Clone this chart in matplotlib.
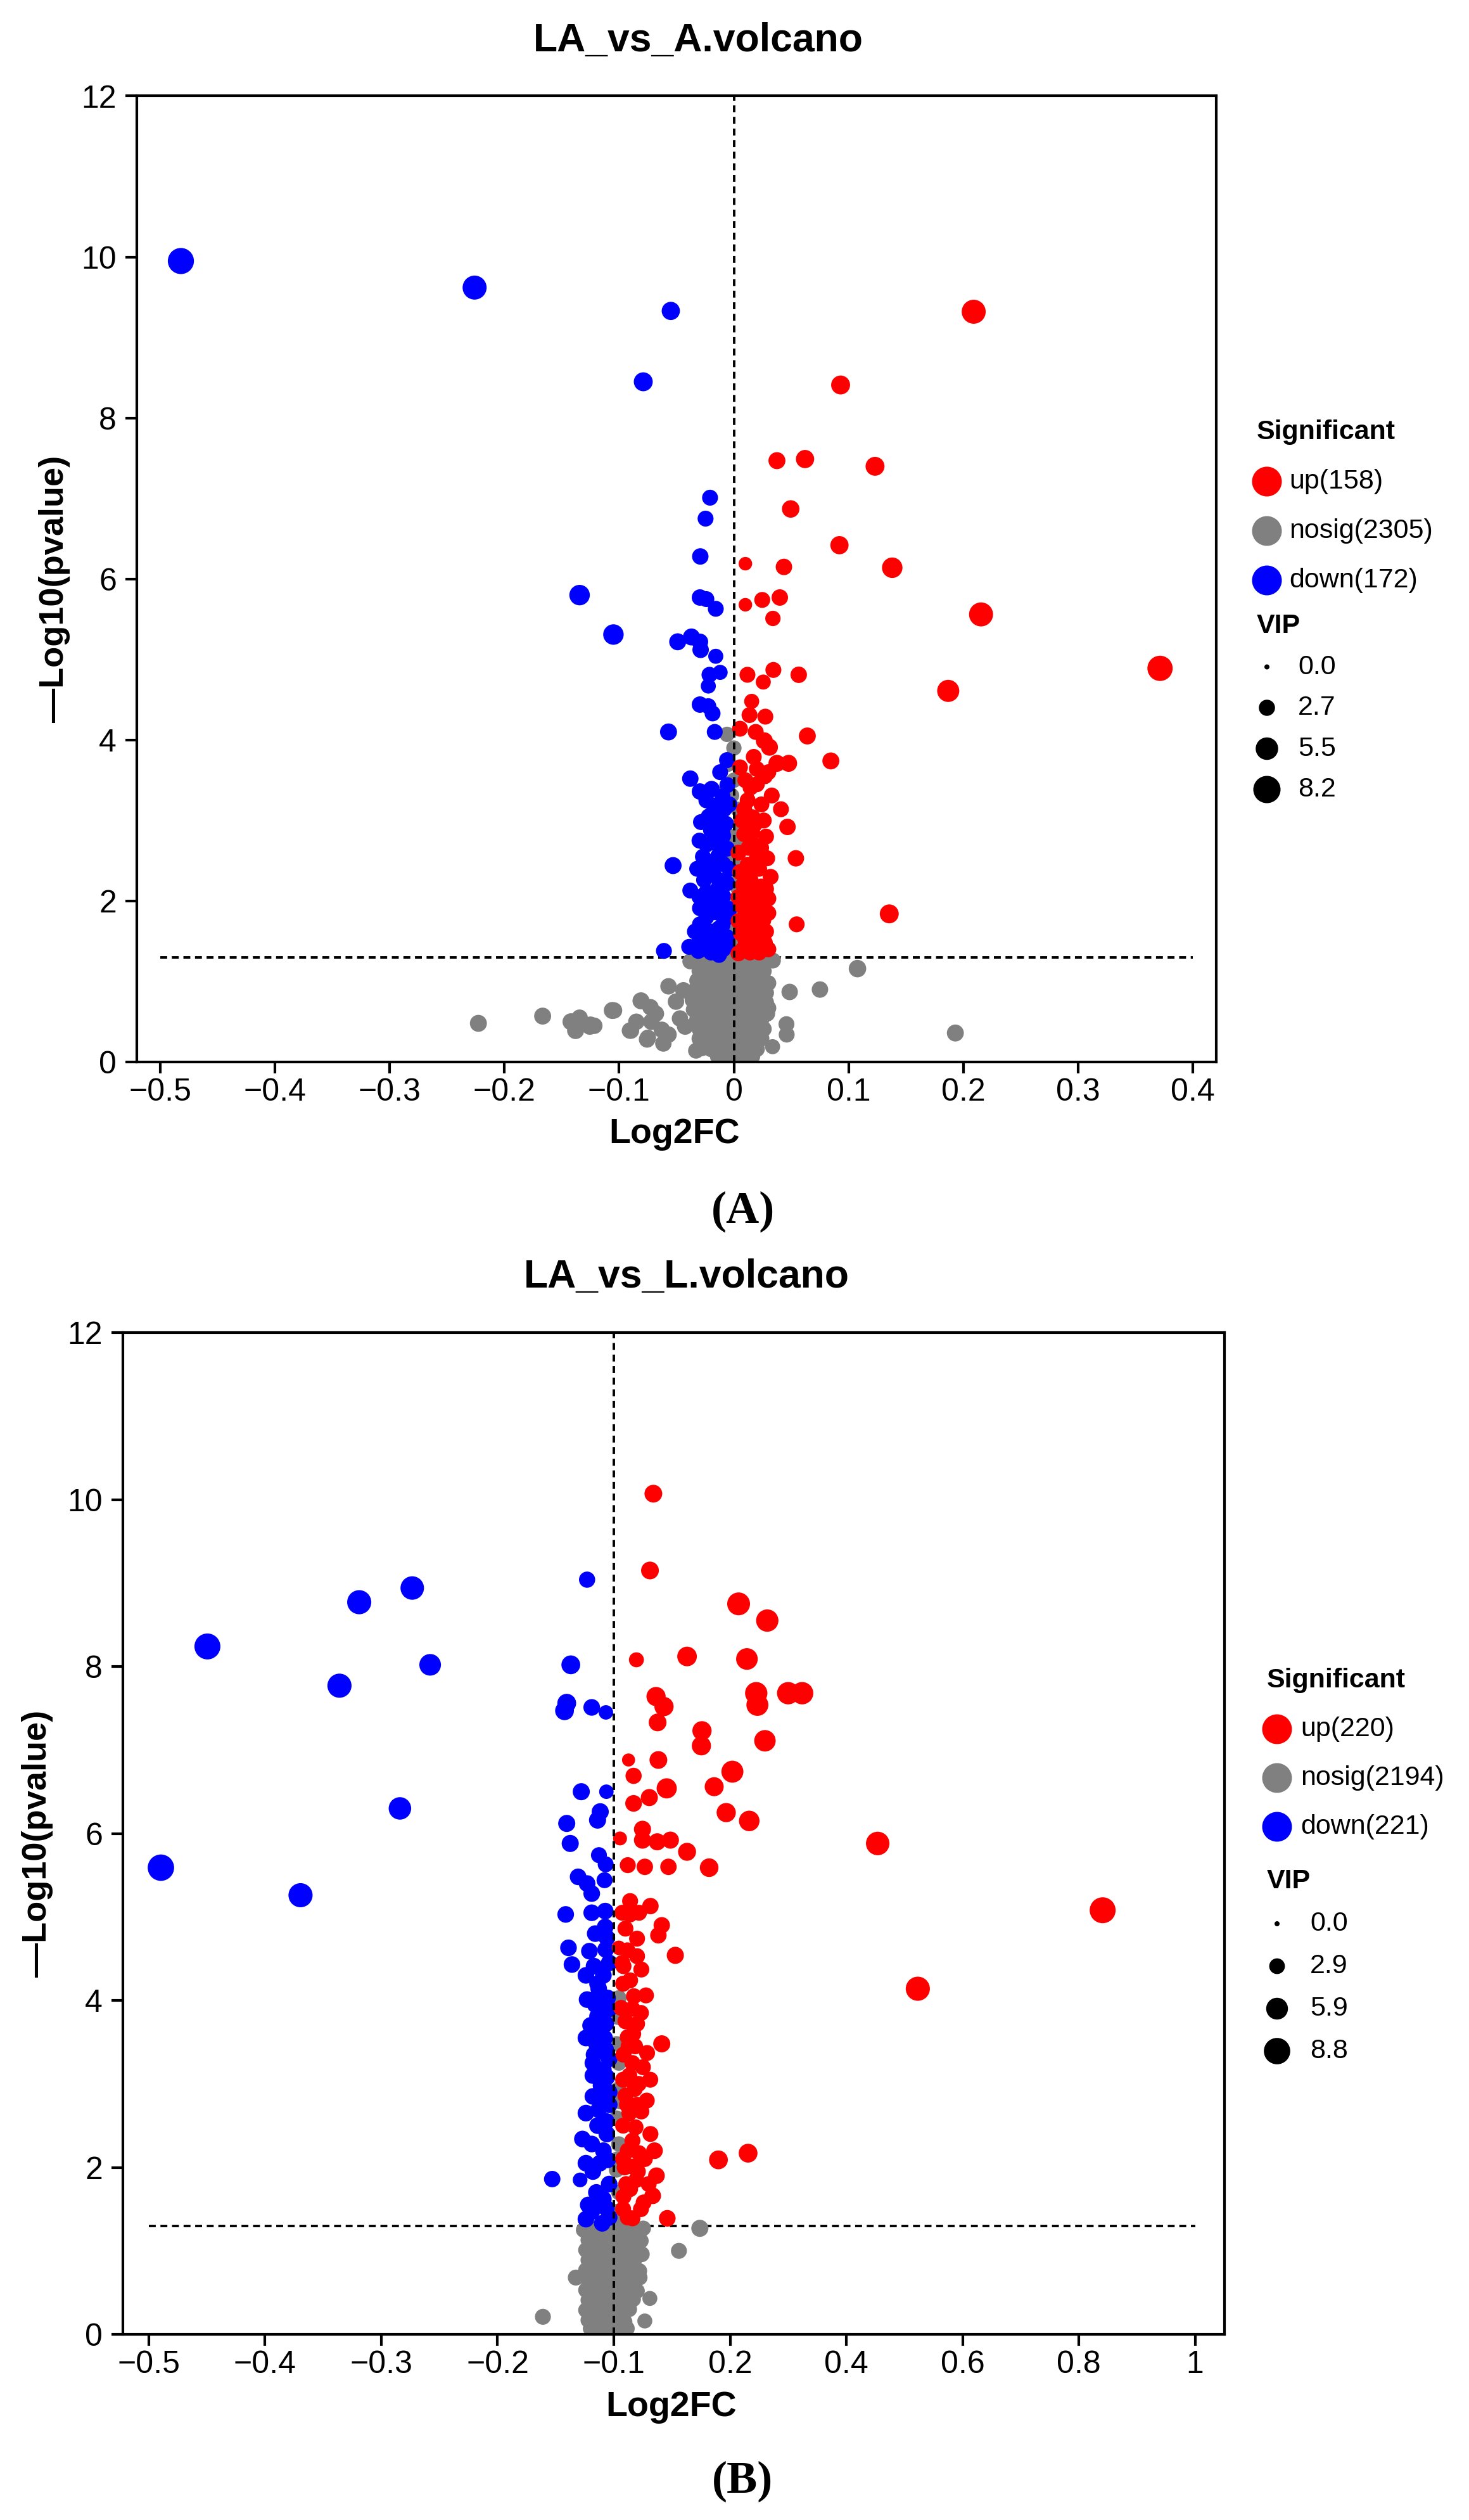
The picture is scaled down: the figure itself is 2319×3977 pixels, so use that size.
import numpy as np
import matplotlib
matplotlib.use("Agg")
import matplotlib.pyplot as plt

plt.rcParams['font.family'] = ['Liberation Sans', 'DejaVu Sans']

W, H = 2319, 3977

# colours of the three groups
c_up, c_nosig, c_down = '#FF0000', '#808080', '#0000FF'

# ---------------- panel A : LA_vs_A ----------------
a_title = "LA_vs_A.volcano"
# (log2FC, -log10 p, VIP)
a_up = [
    (0.209, 9.32, 6.3), (0.093, 8.41, 3.8), (0.0375, 7.47, 3.0), (0.062, 7.49, 3.5),
    (0.123, 7.40, 3.8), (0.0495, 6.87, 3.2), (0.092, 6.42, 3.5), (0.010, 6.19, 1.8),
    (0.0436, 6.15, 2.8), (0.138, 6.14, 4.5), (0.2154, 5.56, 6.3), (0.3714, 4.89, 7.0),
    (0.1868, 4.61, 5.3), (0.010, 5.68, 1.8), (0.0247, 5.74, 2.6), (0.040, 5.77, 2.8),
    (0.034, 5.51, 2.4), (0.0118, 4.81, 2.6), (0.0256, 4.72, 2.3), (0.0344, 4.87, 2.6),
    (0.0565, 4.81, 2.8), (0.0155, 4.48, 2.3), (0.0136, 4.31, 2.6), (0.0274, 4.29, 2.6),
    (0.0053, 4.14, 2.6), (0.0265, 3.99, 3.0), (0.031, 3.91, 3.0), (0.064, 4.05, 3.0),
    (0.0845, 3.74, 3.0), (0.0477, 3.71, 3.0), (0.0375, 3.71, 3.0), (0.0173, 3.79, 2.6),
    (0.0053, 3.66, 2.6), (0.020, 3.64, 2.6), (0.0145, 3.41, 2.6), (0.033, 3.31, 2.6),
    (0.041, 3.14, 2.6), (0.009, 3.14, 2.6), (0.0467, 2.92, 2.8), (0.0164, 3.04, 2.6),
    (0.009, 2.83, 2.6), (0.0127, 2.66, 2.6), (0.0237, 2.66, 2.6), (0.020, 2.53, 2.6),
    (0.029, 2.53, 2.6), (0.054, 2.53, 2.8), (0.0053, 2.36, 2.6), (0.0145, 2.26, 2.6),
    (0.0237, 2.18, 2.6), (0.030, 2.03, 2.6), (0.018, 1.86, 2.6), (0.0256, 1.76, 2.6),
    (0.0547, 1.71, 2.6), (0.0145, 1.58, 2.6), (0.0237, 1.58, 2.6), (0.0164, 1.43, 2.6),
    (0.020, 1.71, 2.6), (0.011, 2.00, 2.6), (0.1354, 1.84, 3.8), (0.008, 1.40, 2.6),
    (0.022, 1.36, 2.6), (0.012, 1.75, 2.6), (0.026, 1.95, 2.6), (0.016, 2.10, 2.6),
    (0.008, 2.20, 2.6), (0.022, 2.40, 2.6), (0.012, 2.45, 2.6), (0.028, 2.80, 2.6),
    (0.018, 2.95, 2.6), (0.024, 3.20, 2.6), (0.010, 3.50, 2.6), (0.027, 3.55, 2.6),
    (0.019, 4.10, 2.6), (0.006, 1.95, 2.6), (0.006, 1.60, 2.6), (0.027, 1.48, 2.6),
    (0.017, 2.70, 2.6), (0.032, 2.30, 2.6), (0.007, 3.00, 2.6),
    (0.004, 1.35, 2.6), (0.014, 1.36, 2.6), (0.030, 1.40, 2.6), (0.010, 1.52, 2.6),
    (0.020, 1.50, 2.6), (0.028, 1.62, 2.6), (0.004, 1.75, 2.6), (0.016, 1.70, 2.6),
    (0.030, 1.85, 2.6), (0.010, 1.88, 2.6), (0.020, 2.00, 2.6), (0.004, 2.05, 2.6),
    (0.028, 2.15, 2.6), (0.012, 2.30, 2.6), (0.026, 2.55, 2.6), (0.004, 2.60, 2.6),
    (0.016, 2.85, 2.6), (0.026, 3.00, 2.6), (0.012, 3.25, 2.6), (0.020, 3.45, 2.6),
    (0.030, 3.60, 2.6),
]
a_down = [
    (-0.482, 9.95, 7.5), (-0.226, 9.62, 6.3), (-0.055, 9.33, 3.5), (-0.079, 8.45, 3.8),
    (-0.0208, 7.01, 2.6), (-0.0247, 6.75, 2.6), (-0.0293, 6.28, 2.8), (-0.1345, 5.80, 4.5),
    (-0.0296, 5.77, 2.8), (-0.024, 5.75, 2.6), (-0.0158, 5.63, 2.6), (-0.105, 5.31, 4.5),
    (-0.049, 5.22, 3.0), (-0.037, 5.28, 3.0), (-0.0296, 5.22, 2.8), (-0.029, 5.12, 2.8),
    (-0.0158, 5.04, 2.3), (-0.012, 4.84, 2.3), (-0.0213, 4.81, 2.6), (-0.0223, 4.67, 2.3),
    (-0.0296, 4.44, 2.8), (-0.0223, 4.42, 2.6), (-0.0186, 4.33, 2.6), (-0.057, 4.10, 3.0),
    (-0.0167, 4.10, 2.6), (-0.038, 3.52, 2.8), (-0.0296, 3.36, 2.8), (-0.0195, 3.39, 2.8),
    (-0.0057, 3.44, 2.6), (-0.0149, 3.19, 2.6), (-0.0085, 3.14, 2.6), (-0.0287, 2.98, 2.6),
    (-0.013, 2.99, 2.6), (-0.0094, 2.81, 2.6), (-0.012, 2.61, 2.6), (-0.053, 2.44, 3.0),
    (-0.0204, 2.46, 2.6), (-0.0094, 2.46, 2.6), (-0.026, 2.26, 2.6), (-0.013, 2.26, 2.6),
    (-0.038, 2.13, 2.6), (-0.024, 2.11, 2.6), (-0.0094, 2.06, 2.6), (-0.0296, 1.91, 2.6),
    (-0.0167, 1.86, 2.6), (-0.0075, 1.78, 2.6), (-0.0296, 1.71, 2.6), (-0.013, 1.66, 2.6),
    (-0.0278, 1.56, 2.6), (-0.039, 1.43, 2.6), (-0.061, 1.38, 2.6), (-0.0223, 1.43, 2.6),
    (-0.0094, 1.40, 2.6), (-0.013, 1.33, 2.6), (-0.020, 1.36, 2.6), (-0.031, 1.38, 2.6),
    (-0.006, 1.55, 2.6), (-0.019, 1.62, 2.6), (-0.024, 1.80, 2.6), (-0.010, 1.95, 2.6),
    (-0.020, 2.02, 2.6), (-0.006, 2.22, 2.6), (-0.018, 2.36, 2.6), (-0.027, 2.55, 2.6),
    (-0.016, 2.72, 2.6), (-0.007, 2.96, 2.6), (-0.020, 2.88, 2.6), (-0.010, 3.30, 2.6),
    (-0.022, 3.05, 2.6), (-0.006, 3.75, 2.6), (-0.012, 3.60, 2.6),
    (-0.030, 1.50, 2.6), (-0.022, 1.50, 2.6), (-0.014, 1.50, 2.6), (-0.006, 1.45, 2.6),
    (-0.034, 1.62, 2.6), (-0.026, 1.68, 2.6), (-0.010, 1.70, 2.6), (-0.004, 1.90, 2.6),
    (-0.018, 1.95, 2.6), (-0.030, 2.05, 2.6), (-0.014, 2.15, 2.6), (-0.004, 2.40, 2.6),
    (-0.022, 2.35, 2.6), (-0.032, 2.40, 2.6), (-0.014, 2.55, 2.6), (-0.006, 2.65, 2.6),
    (-0.024, 2.70, 2.6), (-0.010, 2.85, 2.6), (-0.030, 2.75, 2.6), (-0.018, 3.10, 2.6),
    (-0.004, 3.20, 2.6), (-0.024, 3.25, 2.6),
]
a_nosig = [
    (-0.006, 4.07, 2.4), (-0.005, 3.70, 2.4), (-0.002, 3.31, 2.4), (0.0035, 3.14, 2.4),
    (0.0044, 2.96, 2.4), (0.005, 2.71, 2.4), (0.0035, 2.41, 2.4), (0.0035, 2.16, 2.4),
    (0.0053, 1.91, 2.4), (0.0017, 1.66, 2.4), (0.0053, 1.46, 2.4), (0.0, 2.56, 2.4),
    (0.0, 3.90, 2.4), (0.002, 1.80, 2.4), (-0.001, 2.00, 2.4), (0.001, 2.30, 2.4),
    (-0.002, 2.80, 2.4), (0.0, 3.50, 2.4), (0.0, 1.55, 2.4),
    (0.193, 0.36, 3.0), (0.1077, 1.16, 3.2), (0.075, 0.90, 2.8), (0.0486, 0.87, 2.8),
    (0.0458, 0.47, 2.6), (0.046, 0.34, 2.6), (0.0337, 0.19, 2.3), (0.029, 0.60, 2.6),
    (0.028, 0.86, 2.6), (-0.142, 0.50, 3.0), (-0.125, 0.46, 3.0), (-0.106, 0.64, 3.0),
    (-0.081, 0.76, 3.0), (-0.0757, 0.28, 2.8), (-0.0906, 0.39, 2.8), (-0.068, 0.60, 2.8),
    (-0.057, 0.34, 2.8), (-0.057, 0.94, 2.8), (-0.044, 0.89, 2.8), (-0.047, 0.54, 2.8),
    (-0.0425, 0.44, 2.8), (-0.035, 0.65, 2.6), (-0.033, 0.14, 2.6), (-0.029, 0.27, 2.6),
    (-0.2227, 0.48, 3.0), (-0.1667, 0.57, 3.0), (-0.138, 0.48, 3.0), (-0.138, 0.39, 3.0),
    (-0.1256, 0.44, 2.8), (-0.1045, 0.64, 2.8), (-0.0727, 0.68, 2.8), (-0.0897, 0.39, 2.8),
    (-0.075, 0.30, 2.8), (-0.0505, 0.75, 2.8), (-0.0615, 0.23, 2.8), (-0.0628, 0.40, 2.8),
    (-0.072, 0.50, 2.8), (-0.085, 0.50, 2.8), (-0.1217, 0.45, 2.8), (-0.1345, 0.55, 2.8),
    # dense core under the cut-off
    (-0.038, 1.25, 2.6), (-0.030, 1.26, 2.6), (-0.022, 1.24, 2.6), (-0.014, 1.25, 2.6),
    (-0.006, 1.27, 2.6), (0.002, 1.24, 2.6), (0.010, 1.26, 2.6), (0.018, 1.25, 2.6),
    (0.026, 1.23, 2.6), (0.034, 1.26, 2.6),
    (-0.030, 1.13, 2.6), (-0.022, 1.12, 2.6), (-0.014, 1.14, 2.6), (-0.006, 1.13, 2.6),
    (0.002, 1.11, 2.6), (0.010, 1.14, 2.6), (0.018, 1.12, 2.6), (0.026, 1.13, 2.6),
    (-0.032, 1.01, 2.6), (-0.024, 1.00, 2.6), (-0.016, 1.02, 2.6), (-0.008, 1.01, 2.6),
    (0.000, 0.99, 2.6), (0.008, 1.02, 2.6), (0.016, 1.00, 2.6), (0.024, 1.01, 2.6),
    (0.030, 0.98, 2.6),
    (-0.034, 0.89, 2.6), (-0.026, 0.88, 2.6), (-0.018, 0.90, 2.6), (-0.010, 0.89, 2.6),
    (-0.002, 0.87, 2.6), (0.006, 0.90, 2.6), (0.014, 0.88, 2.6), (0.022, 0.89, 2.6),
    (-0.036, 0.77, 2.6), (-0.028, 0.76, 2.6), (-0.020, 0.78, 2.6), (-0.012, 0.77, 2.6),
    (-0.004, 0.75, 2.6), (0.004, 0.78, 2.6), (0.012, 0.76, 2.6), (0.020, 0.77, 2.6),
    (0.028, 0.74, 2.6),
    (-0.034, 0.65, 2.6), (-0.026, 0.64, 2.6), (-0.018, 0.66, 2.6), (-0.010, 0.65, 2.6),
    (-0.002, 0.63, 2.6), (0.006, 0.66, 2.6), (0.014, 0.64, 2.6), (0.022, 0.65, 2.6),
    (0.030, 0.67, 2.6),
    (-0.032, 0.53, 2.6), (-0.024, 0.52, 2.6), (-0.016, 0.54, 2.6), (-0.008, 0.53, 2.6),
    (0.000, 0.51, 2.6), (0.008, 0.54, 2.6), (0.016, 0.52, 2.6), (0.024, 0.53, 2.6),
    (-0.030, 0.41, 2.6), (-0.022, 0.40, 2.6), (-0.014, 0.42, 2.6), (-0.006, 0.41, 2.6),
    (0.002, 0.39, 2.6), (0.010, 0.42, 2.6), (0.018, 0.40, 2.6), (0.026, 0.41, 2.6),
    (-0.030, 0.29, 2.6), (-0.022, 0.28, 2.6), (-0.014, 0.30, 2.6), (-0.006, 0.29, 2.6),
    (0.002, 0.27, 2.6), (0.010, 0.30, 2.6), (0.018, 0.28, 2.6), (0.024, 0.29, 2.6),
    (-0.028, 0.17, 2.6), (-0.020, 0.16, 2.6), (-0.012, 0.18, 2.6), (-0.004, 0.17, 2.6),
    (0.004, 0.15, 2.6), (0.012, 0.18, 2.6), (0.020, 0.16, 2.6),
    (-0.014, 0.07, 2.6), (-0.006, 0.06, 2.6), (0.002, 0.08, 2.6), (0.010, 0.06, 2.6),
    (0.016, 0.07, 2.6),
]
a_counts = ["up(158)", "nosig(2305)", "down(172)"]
a_vip_keys = [0.0, 2.7, 5.5, 8.2]
a_xticks = [-0.5, -0.4, -0.3, -0.2, -0.1, 0.0, 0.1, 0.2, 0.3, 0.4]
a_xticklabels = ["\u22120.5", "\u22120.4", "\u22120.3", "\u22120.2", "\u22120.1",
                 "0", "0.1", "0.2", "0.3", "0.4"]

# ---------------- panel B : LA_vs_L ----------------
b_title = "LA_vs_L.volcano"
b_up = [
    (0.002, 10.07, 3.8), (-0.0067, 9.15, 3.8), (0.2147, 8.75, 6.5), (0.264, 8.55, 6.2),
    (-0.0417, 8.08, 2.6), (0.089, 8.12, 4.7), (0.229, 8.09, 5.8), (0.245, 7.68, 6.2),
    (0.300, 7.68, 6.2), (0.324, 7.68, 6.2), (0.247, 7.54, 6.0), (0.009, 7.64, 4.5),
    (0.0295, 7.52, 4.5), (0.013, 7.33, 3.8), (0.1275, 7.23, 4.5), (0.126, 7.05, 4.5),
    (0.260, 7.11, 5.7), (-0.062, 6.88, 1.9), (0.015, 6.88, 3.8), (-0.049, 6.69, 3.1),
    (0.204, 6.74, 6.0), (0.0365, 6.54, 5.0), (0.159, 6.56, 4.4), (-0.0084, 6.43, 3.5),
    (-0.049, 6.36, 3.3), (0.190, 6.25, 4.5), (0.233, 6.15, 5.2), (-0.084, 5.94, 2.2),
    (-0.026, 6.05, 3.5), (-0.026, 5.92, 3.5), (0.012, 5.90, 3.5), (0.046, 5.92, 3.5),
    (0.089, 5.78, 3.9), (0.146, 5.59, 4.2), (0.454, 5.88, 6.9), (0.841, 5.08, 8.5),
    (0.523, 4.14, 7.3), (-0.064, 5.62, 3.0), (-0.020, 5.60, 3.2), (0.041, 5.60, 3.2),
    (-0.058, 5.19, 3.0), (-0.0055, 5.13, 3.2), (-0.058, 5.03, 3.0), (0.0237, 4.90, 3.2),
    (-0.070, 4.86, 3.0), (0.015, 4.78, 3.2), (-0.040, 4.74, 3.0), (-0.087, 4.63, 2.4),
    (0.0587, 4.54, 3.5), (-0.040, 4.53, 3.0), (-0.075, 4.41, 3.0), (-0.029, 4.37, 3.0),
    (-0.058, 4.24, 3.0), (-0.017, 4.06, 3.0), (-0.081, 3.91, 3.0), (-0.040, 3.72, 3.0),
    (-0.064, 3.56, 3.0), (0.0237, 3.48, 3.5), (-0.0142, 3.37, 3.0), (-0.052, 3.25, 3.0),
    (-0.046, 2.94, 3.0), (-0.070, 2.86, 3.0), (-0.029, 2.67, 3.0), (-0.0055, 2.40, 3.0),
    (-0.052, 2.32, 3.0), (-0.035, 2.17, 3.0), (-0.052, 2.01, 3.0), (0.170, 2.09, 4.3),
    (0.231, 2.17, 4.3), (-0.058, 1.74, 3.0), (0.0003, 1.66, 3.3), (-0.023, 1.58, 3.0),
    (-0.052, 1.39, 3.0), (0.038, 1.39, 3.3),
    (-0.076, 1.50, 3.0), (-0.068, 1.80, 3.0), (-0.076, 2.10, 3.0), (-0.064, 2.20, 3.0),
    (-0.044, 2.48, 3.0), (-0.076, 2.50, 3.0), (-0.060, 2.65, 3.0), (-0.076, 3.05, 3.0),
    (-0.060, 3.10, 3.0), (-0.036, 3.00, 3.0), (-0.075, 3.35, 3.0), (-0.045, 3.45, 3.0),
    (-0.070, 3.75, 3.0), (-0.052, 3.90, 3.0), (-0.030, 3.85, 3.0), (-0.076, 4.20, 3.0),
    (-0.048, 4.05, 3.0), (-0.065, 4.60, 3.0), (-0.078, 5.05, 3.0), (-0.035, 5.05, 3.0),
    (-0.072, 2.00, 3.0), (-0.042, 1.85, 3.0), (-0.075, 1.65, 3.0), (-0.066, 2.75, 3.0),
    (-0.050, 3.60, 3.0), (-0.078, 4.45, 3.0), (-0.030, 1.50, 3.0), (-0.010, 1.80, 3.0),
    (-0.038, 1.95, 3.0), (-0.020, 2.10, 3.0), (-0.040, 2.75, 3.0), (-0.015, 2.80, 3.0),
    (-0.025, 3.20, 3.0), (-0.006, 3.05, 3.0), (-0.062, 3.45, 3.0), (-0.064, 1.40, 3.0),
    (0.010, 1.90, 3.3), (0.005, 2.20, 3.3),
]
b_down = [
    (-0.4496, 8.24, 8.5), (-0.319, 8.77, 7.3), (-0.2734, 8.94, 6.9), (-0.258, 8.02, 5.8),
    (-0.336, 7.77, 7.3), (-0.284, 6.30, 6.3), (-0.4896, 5.59, 8.8), (-0.3695, 5.26, 7.3),
    (-0.123, 9.04, 3.1), (-0.137, 8.02, 4.3), (-0.1405, 7.56, 4.3), (-0.1424, 7.47, 4.3),
    (-0.119, 7.51, 3.3), (-0.1068, 7.45, 2.4), (-0.128, 6.50, 3.5), (-0.1064, 6.50, 2.4),
    (-0.1405, 6.12, 3.5), (-0.1117, 6.26, 3.5), (-0.114, 6.16, 3.5), (-0.1375, 5.88, 3.5),
    (-0.1128, 5.74, 3.0), (-0.107, 5.63, 3.0), (-0.1307, 5.48, 3.3), (-0.123, 5.40, 3.3),
    (-0.119, 5.28, 3.3), (-0.108, 5.44, 3.0), (-0.1414, 5.03, 3.3), (-0.119, 5.05, 3.3),
    (-0.1074, 5.07, 3.3), (-0.1074, 4.88, 3.3), (-0.139, 4.63, 3.3), (-0.136, 4.43, 3.3),
    (-0.121, 4.59, 3.3), (-0.107, 4.61, 3.3), (-0.117, 4.41, 3.3), (-0.109, 4.30, 3.3),
    (-0.123, 4.01, 3.3), (-0.113, 4.14, 3.3), (-0.1054, 4.03, 3.3), (-0.114, 3.81, 3.3),
    (-0.107, 3.72, 3.3), (-0.115, 3.48, 3.3), (-0.117, 3.35, 3.3), (-0.107, 3.41, 3.3),
    (-0.109, 3.17, 3.3), (-0.111, 2.98, 3.3), (-0.104, 2.90, 3.3), (-0.113, 2.69, 3.3),
    (-0.1064, 2.55, 3.3), (-0.127, 2.34, 3.3), (-0.119, 2.28, 3.3), (-0.109, 2.20, 3.3),
    (-0.1054, 2.09, 3.3), (-0.153, 1.86, 3.2), (-0.129, 1.85, 2.5), (-0.115, 1.70, 3.3),
    (-0.109, 1.62, 3.3), (-0.119, 1.47, 3.3), (-0.1064, 1.51, 3.3), (-0.110, 1.33, 3.3),
    (-0.104, 1.40, 3.3), (-0.116, 1.58, 3.3), (-0.104, 1.80, 3.3), (-0.118, 1.95, 3.3),
    (-0.106, 2.40, 3.3), (-0.114, 2.50, 3.3), (-0.104, 2.75, 3.3), (-0.118, 2.85, 3.3),
    (-0.106, 3.08, 3.3), (-0.118, 3.10, 3.3), (-0.104, 3.30, 3.3), (-0.112, 3.60, 3.3),
    (-0.120, 3.70, 3.3), (-0.104, 3.90, 3.3), (-0.116, 3.95, 3.3), (-0.104, 4.45, 3.3),
    (-0.114, 4.20, 3.3), (-0.122, 1.55, 3.3), (-0.124, 2.05, 3.3), (-0.112, 2.05, 3.3),
    (-0.124, 2.65, 3.3), (-0.112, 2.80, 3.3), (-0.118, 3.25, 3.3), (-0.124, 3.55, 3.3),
    (-0.108, 3.55, 3.3), (-0.118, 4.00, 3.3), (-0.124, 4.30, 3.3), (-0.106, 4.75, 3.3),
    (-0.116, 4.80, 3.3), (-0.124, 1.38, 3.3),
]
b_nosig = [
    (-0.087, 4.03, 2.8), (-0.093, 3.48, 2.8), (-0.087, 3.25, 2.8), (-0.087, 2.94, 2.8),
    (-0.093, 2.59, 2.8), (-0.087, 2.28, 2.8), (-0.093, 1.97, 2.8), (-0.087, 1.70, 2.8),
    (-0.093, 1.47, 2.8), (-0.084, 2.79, 2.8), (-0.090, 3.80, 2.8), (-0.090, 2.10, 2.8),
    (-0.088, 1.35, 2.8),
    (0.122, 1.27, 3.5), (0.068, 1.00, 3.0), (-0.028, 0.96, 3.0), (-0.1327, 0.68, 3.0),
    (-0.007, 0.43, 2.6), (-0.020, 0.16, 2.6), (-0.161, 0.21, 3.0), (-0.033, 0.68, 2.8),
    # dense core under the cut-off
    (-0.126, 1.25, 2.8), (-0.118, 1.26, 2.8), (-0.110, 1.24, 2.8), (-0.102, 1.25, 2.8),
    (-0.088, 1.26, 2.8), (-0.064, 1.24, 2.8), (-0.040, 1.25, 2.8), (-0.024, 1.27, 2.8),
    (-0.122, 1.13, 2.8), (-0.114, 1.12, 2.8), (-0.106, 1.14, 2.8), (-0.094, 1.13, 2.8),
    (-0.070, 1.12, 2.8), (-0.046, 1.14, 2.8), (-0.030, 1.12, 2.8),
    (-0.124, 1.01, 2.8), (-0.116, 1.00, 2.8), (-0.108, 1.02, 2.8), (-0.100, 1.01, 2.8),
    (-0.082, 0.99, 2.8), (-0.058, 1.02, 2.8), (-0.036, 1.00, 2.8),
    (-0.122, 0.89, 2.8), (-0.114, 0.88, 2.8), (-0.106, 0.90, 2.8), (-0.094, 0.89, 2.8),
    (-0.070, 0.87, 2.8), (-0.046, 0.90, 2.8),
    (-0.124, 0.77, 2.8), (-0.116, 0.76, 2.8), (-0.108, 0.78, 2.8), (-0.100, 0.77, 2.8),
    (-0.082, 0.75, 2.8), (-0.058, 0.78, 2.8), (-0.034, 0.76, 2.8),
    (-0.122, 0.65, 2.8), (-0.114, 0.64, 2.8), (-0.106, 0.66, 2.8), (-0.094, 0.65, 2.8),
    (-0.070, 0.63, 2.8), (-0.046, 0.66, 2.8),
    (-0.124, 0.53, 2.8), (-0.116, 0.52, 2.8), (-0.108, 0.54, 2.8), (-0.100, 0.53, 2.8),
    (-0.082, 0.51, 2.8), (-0.058, 0.54, 2.8), (-0.040, 0.52, 2.8),
    (-0.122, 0.41, 2.8), (-0.114, 0.40, 2.8), (-0.106, 0.42, 2.8), (-0.094, 0.41, 2.8),
    (-0.070, 0.39, 2.8), (-0.050, 0.42, 2.8),
    (-0.124, 0.29, 2.8), (-0.116, 0.28, 2.8), (-0.108, 0.30, 2.8), (-0.100, 0.29, 2.8),
    (-0.082, 0.27, 2.8), (-0.060, 0.30, 2.8),
    (-0.122, 0.17, 2.8), (-0.114, 0.16, 2.8), (-0.106, 0.18, 2.8), (-0.094, 0.17, 2.8),
    (-0.072, 0.15, 2.8),
    (-0.120, 0.07, 2.8), (-0.110, 0.06, 2.8), (-0.100, 0.08, 2.8), (-0.086, 0.06, 2.8),
    (-0.066, 0.07, 2.8),
]
b_counts = ["up(220)", "nosig(2194)", "down(221)"]
b_vip_keys = [0.0, 2.9, 5.9, 8.8]
b_xticks = [-0.5, -0.4, -0.3, -0.2, -0.1, 0.2, 0.4, 0.6, 0.8, 1.0]
b_xticklabels = ["\u22120.5", "\u22120.4", "\u22120.3", "\u22120.2", "\u22120.1",
                 "0.2", "0.4", "0.6", "0.8", "1"]

yticks = [0, 2, 4, 6, 8, 10, 12]
p_cut = 1.3


def px(x, y):
    # pixel position -> figure fraction
    return x / W, 1 - y / H


def vip_area(v, k):
    # marker area in pt^2 (dpi 100); diameter^2 in px grows linearly with VIP
    return 0.72 ** 2 * (64 + k * np.asarray(v, dtype=float))


# the B axis is not linear: -0.5..-0.1 in 0.1 steps, then -0.1 -> 0.2, then 0.2 steps
def b_fwd(x):
    return np.interp(x, [-1.0, -0.1, 0.2, 2.0], [-1.0, -0.1, 0.0, 0.9])


def b_inv(u):
    return np.interp(u, [-1.0, -0.1, 0.0, 0.9], [-1.0, -0.1, 0.2, 2.0])


def draw_panel(ax, up, nosig, down, k, xticks, xlabels, xlim, xcut, hspan, lab_x, lab_y):
    for grp, col in ((nosig, c_nosig), (down, c_down), (up, c_up)):
        x, y, v = zip(*grp)
        ax.scatter(x, y, s=vip_area(v, k), c=col, edgecolors='none', zorder=2)
    ax.plot(hspan, [p_cut, p_cut], ls=(0, (2.8, 1.9)), lw=2.8, color='black', zorder=1.5)
    ax.plot([xcut, xcut], [0, 12], ls=(0, (2.8, 1.9)), lw=2.8, color='black', zorder=3)
    ax.set_xlim(*xlim)
    ax.set_ylim(0, 12)
    ax.set_xticks(xticks)
    ax.set_xticklabels(xlabels)
    ax.xaxis.set_minor_locator(matplotlib.ticker.NullLocator())
    ax.set_yticks(yticks)
    ax.set_yticklabels([str(t) for t in yticks])
    for sp in ax.spines.values():
        sp.set_linewidth(3)
    ax.tick_params(direction='out', length=13, width=3, labelsize=36, top=False, right=False)
    ax.tick_params(axis='x', pad=5)
    ax.tick_params(axis='y', pad=10)
    ax.set_xlabel("Log2FC", fontsize=40, fontweight='bold', va='baseline')
    ax.xaxis.set_label_coords(0.498, lab_y)
    ax.set_ylabel("\u2014Log10(pvalue)", fontsize=39, fontweight='bold', va='center')
    ax.yaxis.set_label_coords(lab_x, 0.49)


def draw_legend(lax, x0, y_sig, sig_dy, y_vip, vip_dy, counts, keys, k, dot_dx, txt_dx, num_dx):
    lax.text(x0, y_sig, "Significant", fontsize=31, fontweight='bold', ha='left', va='center')
    for i, (lab, col) in enumerate(zip(counts, (c_up, c_nosig, c_down))):
        yy = y_sig + (i + 1) * sig_dy
        lax.scatter([x0 + dot_dx], [yy], s=(47 * 0.72) ** 2, c=col, edgecolors='none')
        lax.text(x0 + txt_dx, yy, lab, fontsize=31, ha='left', va='center')
    lax.text(x0, y_vip, "VIP", fontsize=31, fontweight='bold', ha='left', va='center')
    for i, v in enumerate(keys):
        yy = y_vip + (i + 1) * vip_dy
        lax.scatter([x0 + dot_dx], [yy], s=vip_area(v, k), c='black', edgecolors='none')
        lax.text(x0 + num_dx, yy, f"{v:.1f}", fontsize=31, ha='left', va='center')


fig = plt.figure(figsize=(W / 100, H / 100), dpi=100)
fig.patch.set_facecolor('white')

# panel A
axA = fig.add_axes([216 / W, 1 - 1676 / H, 1704 / W, 1524.5 / H])
draw_panel(axA, a_up, a_nosig, a_down, 218, a_xticks, a_xticklabels,
           (-0.5204, 0.4204), 0.0, [-0.5, 0.4], -0.0763, -0.084)

# panel B
axB = fig.add_axes([194 / W, 1 - 3684 / H, 1739 / W, 1581 / H])
axB.set_xscale('function', functions=(b_fwd, b_inv))
draw_panel(axB, b_up, b_nosig, b_down, 190, b_xticks, b_xticklabels,
           (-0.5223, 1.0506), -0.1, [-0.5, 1.0], -0.0776, -0.0816)

# titles and panel letters
fig.text(*px(1102, 81), a_title, fontsize=45, fontweight='bold', ha='center', va='baseline')
fig.text(*px(1084, 2032), b_title, fontsize=45, fontweight='bold', ha='center', va='baseline')
fig.text(*px(1173, 1912), "(A)", fontsize=52, fontweight='bold', ha='center', va='center',
         family=['Liberation Serif', 'DejaVu Serif'])
fig.text(*px(1172, 3916), "(B)", fontsize=52, fontweight='bold', ha='center', va='center',
         family=['Liberation Serif', 'DejaVu Serif'])

# legends drawn in a pixel-space overlay
lax = fig.add_axes([0, 0, 1, 1])
lax.set_xlim(0, W)
lax.set_ylim(H, 0)
lax.axis('off')
draw_legend(lax, 1984, 682, 78, 988, 64.5, a_counts, a_vip_keys, 218, 16, 51, 65)
draw_legend(lax, 2000, 2652, 77, 2969, 67, b_counts, b_vip_keys, 190, 16, 53, 68)

fig.savefig("out.png", dpi=100, facecolor='white')
